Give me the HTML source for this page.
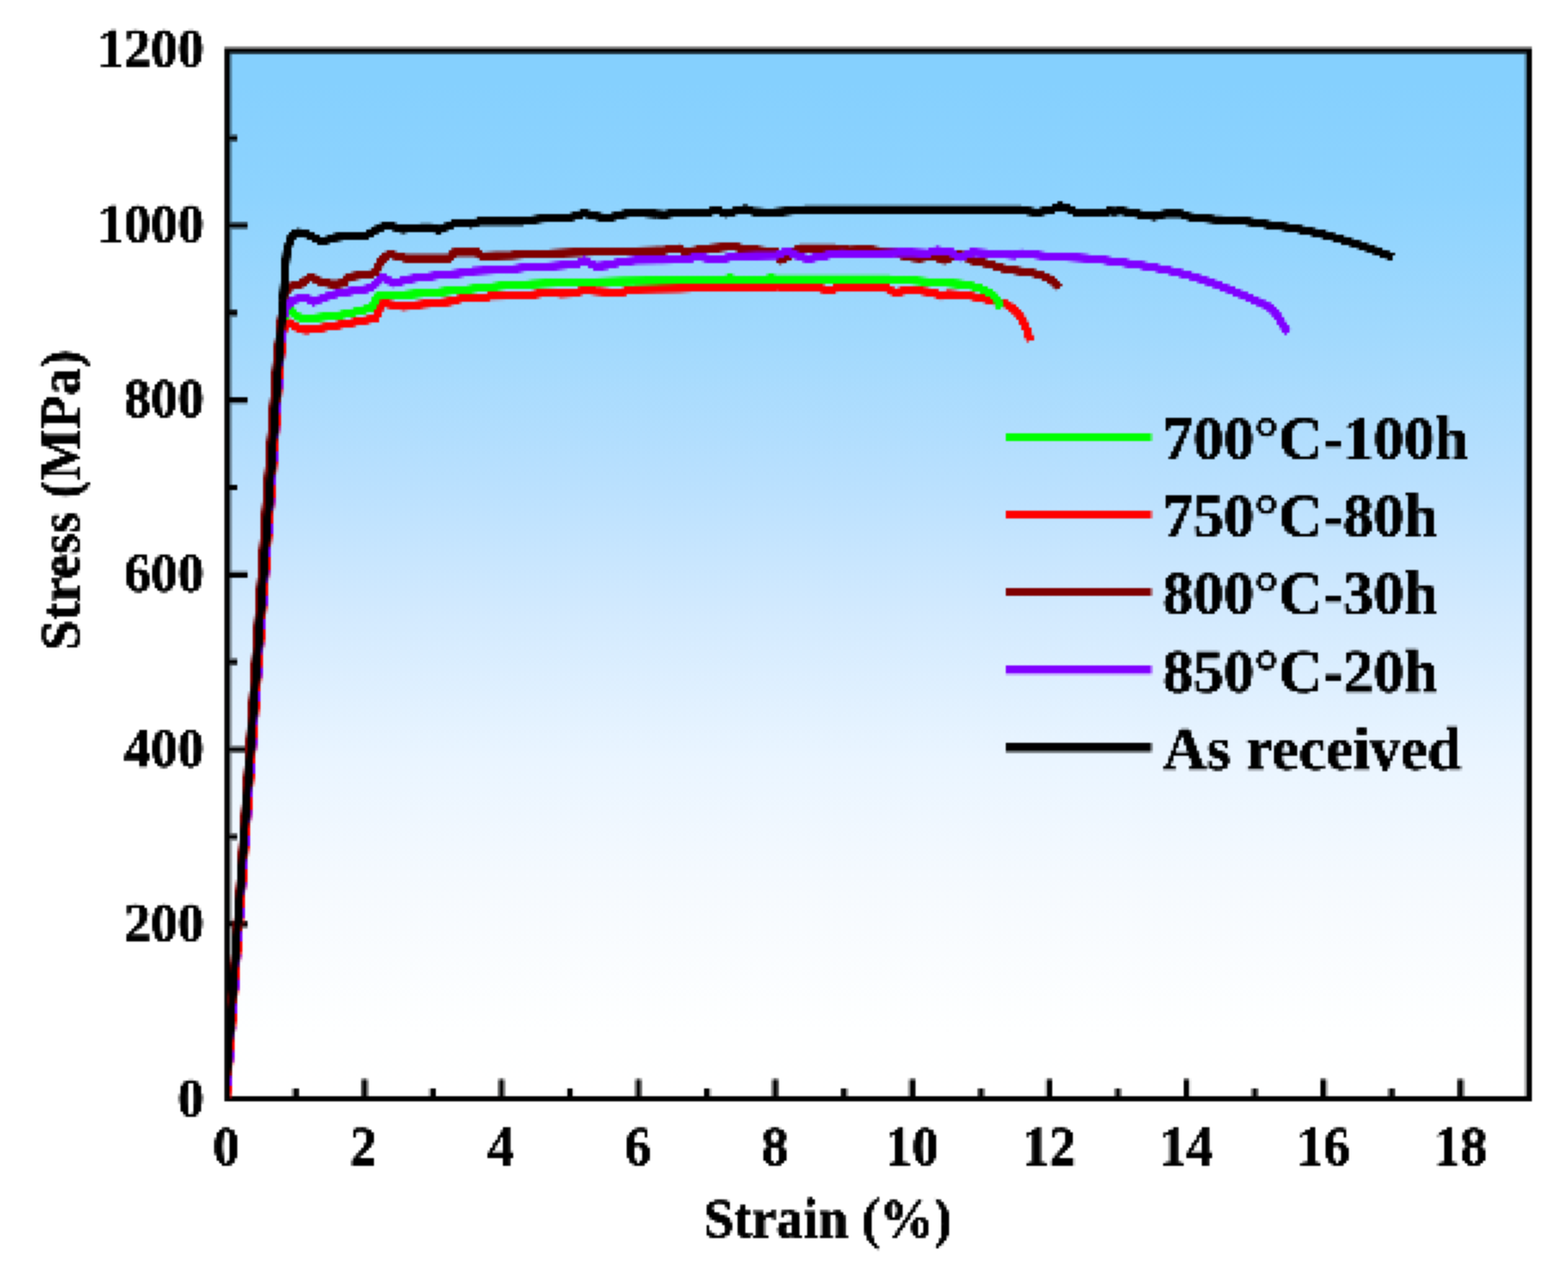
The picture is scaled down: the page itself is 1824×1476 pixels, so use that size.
<!DOCTYPE html>
<html lang="en"><head><meta charset="utf-8"><title>Stress-strain curves</title>
<style>
html,body{margin:0;padding:0;background:#fff;}
body{width:1824px;height:1476px;overflow:hidden;}
svg{display:block;}
text{font-family:"Liberation Serif",serif;font-weight:bold;fill:#000;stroke:#000;stroke-width:0.7px;stroke-linejoin:round;}
.tk{font-size:62px;}
.lb{font-size:63.5px;}
.lg{font-size:71px;}
</style></head><body>
<svg width="1824" height="1476" viewBox="0 0 1824 1476">
<defs>
<linearGradient id="bg" x1="0" y1="0" x2="0" y2="1">
<stop offset="0" stop-color="#85d0fe"/>
<stop offset="0.03" stop-color="#85d0fe"/>
<stop offset="0.137" stop-color="#8dd3fe"/>
<stop offset="0.271" stop-color="#a1d9fd"/>
<stop offset="0.41" stop-color="#b9e0fe"/>
<stop offset="0.539" stop-color="#d3eafe"/>
<stop offset="0.678" stop-color="#eaf5ff"/>
<stop offset="0.808" stop-color="#f6fafe"/>
<stop offset="0.936" stop-color="#feffff"/>
<stop offset="1" stop-color="#ffffff"/>
</linearGradient>
<clipPath id="clip"><rect x="264.6" y="59.1" width="1513.9" height="1218.9"/></clipPath>
<filter id="post" filterUnits="userSpaceOnUse" x="0" y="0" width="1824" height="1476" color-interpolation-filters="sRGB"><feMorphology operator="dilate" radius="1"/><feConvolveMatrix order="3" kernelMatrix="1 2 1 2 4 2 1 2 1" divisor="16" edgeMode="duplicate" preserveAlpha="false"/></filter>
<pattern id="dotpat" patternUnits="userSpaceOnUse" x="0" y="0" width="3" height="3"><rect x="1" y="1" width="1" height="1" fill="#fff" shape-rendering="crispEdges"/></pattern>
<mask id="dots" maskUnits="userSpaceOnUse" x="0" y="0" width="1824" height="1476"><rect x="0" y="0" width="1824" height="1476" fill="url(#dotpat)"/></mask>
</defs>
<g id="chart">
<rect x="0" y="0" width="1824" height="1476" fill="#ffffff"/>
<rect x="264.6" y="59.1" width="1513.9" height="1218.9" fill="url(#bg)"/>
<g fill="none" stroke="#000"><path d="M264.6 1176.4h11.6M264.6 1074.8h22.4M264.6 973.3h11.6M264.6 871.7h22.4M264.6 770.1h11.6M264.6 668.5h22.4M264.6 567.0h11.6M264.6 465.4h22.4M264.6 363.8h11.6M264.6 262.2h22.4M264.6 160.7h11.6M344.3 1278.0v-11.6M424.0 1278.0v-22.4M503.6 1278.0v-11.6M583.3 1278.0v-22.4M663.0 1278.0v-11.6M742.7 1278.0v-22.4M822.4 1278.0v-11.6M902.0 1278.0v-22.4M981.7 1278.0v-11.6M1061.4 1278.0v-22.4M1141.1 1278.0v-11.6M1220.7 1278.0v-22.4M1300.4 1278.0v-11.6M1380.1 1278.0v-22.4M1459.8 1278.0v-11.6M1539.5 1278.0v-22.4M1619.1 1278.0v-11.6M1698.8 1278.0v-22.4M264.6 59.1H1778.5V1278.0H264.6Z" stroke-width="8.2" stroke-opacity="0.5"/>
<path d="M264.6 1176.4h11.6M264.6 1074.8h22.4M264.6 973.3h11.6M264.6 871.7h22.4M264.6 770.1h11.6M264.6 668.5h22.4M264.6 567.0h11.6M264.6 465.4h22.4M264.6 363.8h11.6M264.6 262.2h22.4M264.6 160.7h11.6M344.3 1278.0v-11.6M424.0 1278.0v-22.4M503.6 1278.0v-11.6M583.3 1278.0v-22.4M663.0 1278.0v-11.6M742.7 1278.0v-22.4M822.4 1278.0v-11.6M902.0 1278.0v-22.4M981.7 1278.0v-11.6M1061.4 1278.0v-22.4M1141.1 1278.0v-11.6M1220.7 1278.0v-22.4M1300.4 1278.0v-11.6M1380.1 1278.0v-22.4M1459.8 1278.0v-11.6M1539.5 1278.0v-22.4M1619.1 1278.0v-11.6M1698.8 1278.0v-22.4M264.6 59.1H1778.5V1278.0H264.6Z" stroke-width="5.0"/></g>
<g clip-path="url(#clip)" fill="none" stroke-linejoin="round" stroke-linecap="butt">
<polyline points="262.0,1285.0 278.0,1060.0 313.7,584.0 325.3,420.0 329.5,372.0 336.0,361.5" stroke="#00ff00" stroke-width="8.8"/>
<polyline points="261.0,1285.0 276.8,1060.0 309.3,584.0 321.4,420.0 327.6,363.0 331.0,342.0" stroke="#800000" stroke-width="8.8"/>
<polyline points="263.4,1285.0 279.9,1060.0 315.4,584.0 326.6,420.0 330.0,385.0 334.5,376.0" stroke="#ff0000" stroke-width="8.8"/>
<polyline points="263.4,1285.0 279.9,1060.0 315.2,584.0 326.4,420.0 330.6,368.0 334.5,356.7" stroke="#8000ff" stroke-width="8.8" stroke-dasharray="13 15" stroke-dashoffset="6"/>
<polyline points="334.5,376.0 336.7,375.3 341.0,377.8 345.0,380.8 349.0,382.8 353.3,383.6 358.0,383.9 365.0,382.6 376.7,381.1 393.0,378.3 410.0,375.3 423.0,372.9 436.7,370.3 440.0,362.3 445.0,352.0 451.0,353.8 460.0,354.8 468.0,356.6 476.7,356.1 485.0,354.5 493.0,353.7 502.0,353.1 510.0,352.0 525.0,350.6 540.0,346.1 550.0,346.9 561.7,347.3 566.0,345.8 570.0,344.5 590.0,344.1 613.3,343.6 626.0,341.8 640.0,340.3 653.0,341.8 666.7,341.1 673.0,339.3 680.0,337.8 693.0,338.8 706.7,339.5 714.0,340.0 721.7,340.7 730.0,337.9 740.0,336.3 765.0,335.9 790.0,335.7 806.0,335.1 823.3,334.5 844.0,334.1 870.0,334.5 895.0,334.5 903.3,332.8 911.0,334.1 930.0,334.8 953.3,335.3 960.0,336.8 966.7,337.8 974.0,334.8 981.7,332.8 988.0,334.3 995.0,335.3 1013.0,335.3 1031.7,335.3 1036.0,338.1 1041.7,340.3 1051.0,338.5 1061.7,337.0 1074.0,338.8 1086.7,340.3 1091.0,342.8 1095.0,344.5 1099.0,342.9 1103.3,342.0 1113.0,342.6 1125.0,343.6 1137.0,345.9 1150.0,348.6 1160.0,351.0 1170.0,353.6 1177.0,357.8 1183.3,363.6 1188.0,369.8 1191.7,377.0 1194.5,383.6 1196.7,390.3 1198.3,397.0" stroke="#ff0000" stroke-width="9.6"/>
<polyline points="336.0,361.5 340.0,362.0 343.0,365.8 346.7,368.6 353.0,370.0 360.0,370.3 376.0,368.8 393.3,367.0 407.0,364.3 420.0,361.1 427.0,359.3 433.3,357.0 436.5,350.3 440.0,343.6 450.0,343.6 460.0,343.6 476.0,342.4 493.3,341.1 516.0,339.1 540.0,337.0 561.0,334.8 581.7,332.8 600.0,331.5 620.0,330.3 641.0,329.5 663.3,328.6 693.0,327.9 723.3,327.1 756.0,326.7 790.0,326.3 820.0,325.6 844.0,324.9 850.0,323.2 853.0,324.9 893.0,324.5 897.0,322.8 901.0,324.5 965.0,324.5 1033.3,324.5 1052.0,325.8 1070.0,327.0 1087.0,328.3 1103.3,329.5 1114.0,330.1 1125.0,331.1 1133.0,333.3 1141.7,336.1 1148.0,339.1 1155.0,342.8 1158.5,346.8 1161.7,352.0 1163.0,355.3 1164.2,358.6" stroke="#00ff00" stroke-width="9.6"/>
<polyline points="331.0,342.0 336.7,333.6 343.0,331.8 350.0,330.3 356.0,325.8 361.7,322.0 367.0,324.8 373.3,327.8 379.0,329.3 385.0,330.3 393.0,330.1 400.0,329.5 402.5,325.3 405.0,322.0 415.0,320.8 426.7,319.5 432.0,318.5 436.7,317.0 440.0,310.3 443.3,303.6 448.0,298.8 453.3,295.3 462.0,298.1 471.7,300.3 497.0,300.3 523.3,300.3 526.0,296.3 528.3,293.6 540.0,293.6 555.0,293.6 557.5,295.8 560.0,297.8 577.0,297.3 595.0,297.0 619.0,295.6 643.3,294.5 675.0,293.6 706.7,292.8 740.0,291.9 773.3,291.1 782.0,289.6 790.0,288.6 793.5,290.8 796.7,292.8 803.0,291.9 810.0,291.1 818.0,289.8 826.7,288.6 835.0,288.1 844.0,287.5 850.0,286.1 858.0,287.8 866.7,289.5 885.0,291.3 903.3,292.8 906.0,298.3 908.3,302.8 914.0,299.8 920.0,297.0 925.0,292.3 930.0,288.6 950.0,288.6 970.0,288.6 978.0,289.8 986.7,291.1 997.0,290.7 1008.3,290.3 1026.0,292.0 1043.3,293.6 1048.0,296.3 1053.3,298.6 1061.0,299.6 1070.0,300.3 1078.0,299.3 1086.7,297.8 1092.0,300.3 1098.3,302.8 1104.0,300.3 1110.0,297.3 1116.7,295.8 1123.0,298.8 1130.0,302.8 1140.0,304.8 1150.0,307.0 1161.0,310.3 1171.7,313.6 1186.0,315.3 1200.0,317.0 1208.0,319.3 1216.7,322.0 1222.0,325.1 1226.7,328.6 1229.5,331.8 1231.7,335.3" stroke="#800000" stroke-width="9.6"/>
<polyline points="334.5,356.7 337.5,352.3 340.0,349.8 347.0,347.3 355.0,345.8 360.0,348.3 365.0,351.1 371.0,348.6 376.7,346.1 385.0,343.6 393.3,341.1 410.0,338.6 426.7,336.1 431.0,334.3 435.0,332.0 440.0,326.8 445.0,322.0 451.0,325.8 458.3,329.5 467.0,327.0 476.7,324.5 493.0,322.3 510.0,320.3 527.0,318.6 543.3,317.0 550.0,315.3 570.0,314.5 590.0,313.6 613.3,311.1 641.0,309.5 670.0,307.8 675.0,305.3 680.0,302.8 686.0,306.3 693.3,309.5 700.0,309.1 706.7,308.6 715.0,306.5 723.3,304.5 731.0,303.5 740.0,302.8 770.0,302.4 800.0,302.0 805.0,299.8 810.0,297.8 818.0,299.5 826.7,301.1 836.7,302.0 847.0,299.8 858.3,297.8 880.0,297.3 903.3,297.0 910.0,294.3 916.7,292.0 921.0,294.3 926.7,297.0 933.0,299.3 940.0,301.1 950.0,299.3 961.7,297.0 970.0,295.6 978.3,294.5 1003.3,295.3 1028.0,294.5 1053.3,293.6 1080.0,294.5 1085.0,292.6 1090.0,291.1 1098.0,292.3 1106.7,293.6 1111.0,296.8 1116.7,299.5 1123.0,296.8 1130.0,293.6 1146.7,294.5 1163.0,295.8 1180.0,297.0 1184.0,295.5 1188.3,294.5 1202.0,296.3 1216.7,297.8 1240.0,299.1 1263.3,300.3 1282.0,302.3 1300.0,304.5 1317.0,306.9 1333.3,309.5 1350.0,312.6 1366.7,316.1 1380.0,319.5 1397.0,324.6 1413.3,330.3 1430.0,336.8 1446.7,343.6 1460.0,349.3 1473.3,355.3 1479.0,359.1 1483.3,363.6 1488.0,370.1 1491.7,377.0 1495.0,382.1 1498.3,387.0" stroke="#8000ff" stroke-width="9.6"/>
<polyline points="261.5,1285.0 277.5,1060.0 312.8,584.0 324.4,420.0 329.3,350.0" stroke="#000000" stroke-width="8.8"/>
<polyline points="329.3,350.0 331.5,317.3 333.6,292.3 338.3,277.0 342.0,272.3 346.7,270.3 353.0,271.3 360.0,273.6 368.0,277.8 375.0,281.1 382.0,278.8 390.0,276.1 400.0,275.3 410.0,274.5 420.0,274.1 426.7,273.6 434.0,269.3 440.0,266.1 446.0,263.3 451.7,262.0 460.0,264.3 468.3,267.0 478.0,265.8 490.0,264.5 501.7,264.5 510.0,267.8 517.0,264.8 523.3,262.0 530.0,259.8 536.7,258.6 543.0,259.8 548.3,260.8 556.7,257.8 580.0,257.8 606.7,257.8 618.0,255.8 630.0,254.5 646.0,253.6 663.3,252.8 672.0,250.3 680.0,247.8 690.0,251.1 700.0,252.6 708.3,253.6 716.0,251.3 723.3,249.5 731.0,248.3 740.0,247.8 756.7,248.6 773.3,249.5 786.7,247.8 805.0,247.3 823.3,247.0 829.0,245.3 835.0,244.5 840.0,246.8 845.0,248.6 856.0,245.3 866.7,242.8 872.0,244.8 876.7,246.1 895.0,247.0 910.0,246.1 923.3,245.3 936.7,243.6 1000.0,243.6 1124.0,243.6 1188.3,243.6 1197.0,245.8 1206.7,247.0 1215.0,245.6 1223.3,244.5 1228.0,241.3 1233.3,239.5 1240.0,241.8 1246.7,244.5 1253.3,247.8 1270.0,247.3 1286.7,247.0 1290.0,245.3 1296.0,246.3 1303.3,245.3 1310.0,246.3 1316.7,247.0 1326.7,249.5 1335.0,250.8 1343.3,252.0 1350.0,249.8 1356.7,248.6 1373.3,248.6 1383.3,252.0 1395.0,253.8 1413.3,255.3 1430.0,256.1 1446.7,257.0 1463.0,259.3 1480.0,262.0 1497.0,264.3 1513.3,267.0 1530.0,270.5 1546.7,274.5 1563.0,279.3 1580.0,284.5 1598.0,290.8 1616.7,297.8 1620.5,299.3" stroke="#000000" stroke-width="9.6"/>
</g>
<g stroke-width="9.6" fill="none">
<line x1="1170" y1="508.7" x2="1339.5" y2="508.7" stroke="#00ff00"/>
<line x1="1170" y1="599.0" x2="1339.5" y2="599.0" stroke="#ff0000"/>
<line x1="1170" y1="689.2" x2="1339.5" y2="689.2" stroke="#800000"/>
<line x1="1170" y1="779.5" x2="1339.5" y2="779.5" stroke="#8000ff"/>
<line x1="1170" y1="869.7" x2="1339.5" y2="869.7" stroke="#000000"/>
</g>
<g>
<g class="lg">
<text transform="translate(1352.5,533.9) scale(1,1.02)">700°C-100h</text>
<text transform="translate(1352.5,624.2) scale(1,1.02)">750°C-80h</text>
<text transform="translate(1352.5,714.4) scale(1,1.02)">800°C-30h</text>
<text transform="translate(1352.5,804.7) scale(1,1.02)">850°C-20h</text>
<text transform="translate(1352.5,894.9) scale(1,1.02)">As received</text>
</g>
<g class="tk" text-anchor="end">
<text transform="translate(237.4,1298.6) scale(1,1.04)">0</text>
<text transform="translate(237.4,1095.2) scale(1,1.04)">200</text>
<text transform="translate(237.4,891.8) scale(1,1.04)">400</text>
<text transform="translate(237.4,688.3) scale(1,1.04)">600</text>
<text transform="translate(237.4,484.9) scale(1,1.04)">800</text>
<text transform="translate(237.4,281.5) scale(1,1.04)">1000</text>
<text transform="translate(237.4,78.1) scale(1,1.04)">1200</text>
</g>
<g class="tk" text-anchor="middle">
<text transform="translate(263.3,1354.8) scale(1,1.04)">0</text>
<text transform="translate(422.8,1354.8) scale(1,1.04)">2</text>
<text transform="translate(582.4,1354.8) scale(1,1.04)">4</text>
<text transform="translate(741.9,1354.8) scale(1,1.04)">6</text>
<text transform="translate(901.5,1354.8) scale(1,1.04)">8</text>
<text transform="translate(1061.0,1354.8) scale(1,1.04)">10</text>
<text transform="translate(1220.5,1354.8) scale(1,1.04)">12</text>
<text transform="translate(1380.1,1354.8) scale(1,1.04)">14</text>
<text transform="translate(1539.6,1354.8) scale(1,1.04)">16</text>
<text transform="translate(1699.1,1354.8) scale(1,1.04)">18</text>
</g>
<g class="lb" text-anchor="middle">
<text transform="translate(963.0,1439.3) scale(1,1.03)" style="font-size:63px">Strain (%)</text>
<text transform="translate(91.5,581.8) rotate(-90) scale(1,1.015)">Stress (MPa)</text>
</g>
</g>
</g>
<g filter="url(#post)"><g mask="url(#dots)"><use href="#chart"/></g></g>
</svg>
</body></html>
